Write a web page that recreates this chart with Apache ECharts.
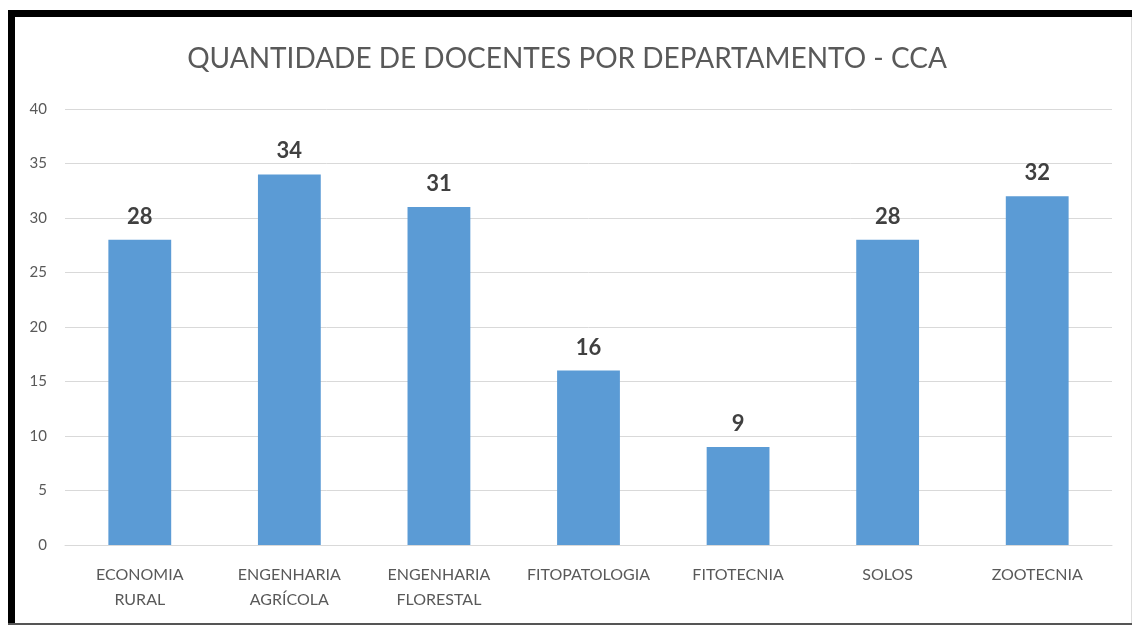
<!DOCTYPE html>
<html>
<head>
<meta charset="utf-8">
<script src="https://cdn.jsdelivr.net/npm/echarts@6/dist/echarts.min.js"></script>
<style>
  html, body { margin: 0; padding: 0; background: #fff; }
  #chart { position: absolute; left: 0; top: 0; width: 1134px; height: 626px; }
  .edge { position: absolute; }
</style>
</head>
<body>
<div id="chart"></div>
<div class="edge" style="left:8px;top:10px;width:1124px;height:7px;background:#000"></div>
<div class="edge" style="left:8px;top:10px;width:7px;height:615px;background:#000"></div>
<div class="edge" style="left:8px;top:623px;width:1124px;height:2px;background:#555"></div>
<div class="edge" style="left:1131px;top:17px;width:1px;height:606px;background:#ddd"></div>
<script>
var departamentos = ['ECONOMIA\nRURAL', 'ENGENHARIA\nAGRÍCOLA', 'ENGENHARIA\nFLORESTAL', 'FITOPATOLOGIA', 'FITOTECNIA', 'SOLOS', 'ZOOTECNIA'];
var docentes = [28, 34, 31, 16, 9, 28, 32];

var chart = echarts.init(document.getElementById('chart'));
chart.setOption({
  backgroundColor: '#fff',
  animation: false,
  title: {
    text: 'QUANTIDADE DE DOCENTES POR DEPARTAMENTO - CCA',
    left: 'center',
    top: 40,
    textStyle: { fontFamily: 'Lato', fontSize: 28, fontWeight: 'normal', color: '#595959' }
  },
  grid: { left: 65, right: 22, top: 109, bottom: 81 },
  xAxis: {
    type: 'category',
    data: departamentos,
    axisLine: { lineStyle: { color: '#d9d9d9' } },
    axisTick: { show: false },
    axisLabel: { color: '#595959', fontFamily: 'Lato', fontSize: 16, margin: 17, lineHeight: 25, interval: 0 }
  },
  yAxis: {
    type: 'value',
    min: 0,
    max: 40,
    interval: 5,
    axisLine: { show: false },
    axisTick: { show: false },
    splitLine: { lineStyle: { color: '#d9d9d9', width: 1 } },
    axisLabel: { color: '#595959', fontFamily: 'Lato', fontSize: 15, margin: 18 }
  },
  series: [{
    type: 'bar',
    data: docentes,
    barWidth: '42%',
    itemStyle: { color: '#5b9bd5' },
    label: {
      show: true,
      position: 'top',
      distance: 12,
      color: '#404040',
      fontFamily: 'Lato',
      fontWeight: 'bold',
      fontSize: 22
    }
  }]
});
</script>
</body>
</html>
